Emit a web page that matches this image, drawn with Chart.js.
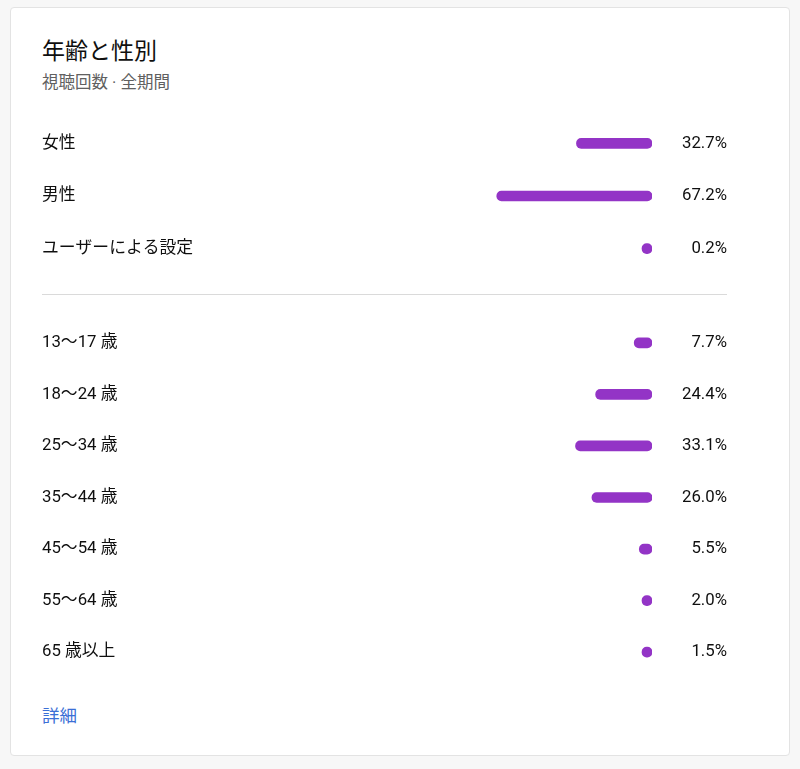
<!DOCTYPE html>
<html lang="ja">
<head>
<meta charset="utf-8">
<title>年齢と性別</title>
<script src="https://cdn.jsdelivr.net/npm/chart.js@4/dist/chart.umd.min.js"></script>
<style>
  body {
    margin: 0;
    width: 800px;
    height: 769px;
    background: #f7f7f7;
    font-family: Roboto, "Noto Sans CJK JP", sans-serif;
    position: relative;
    overflow: hidden;
  }
  .card {
    position: absolute;
    left: 10px;
    top: 7px;
    width: 780px;
    height: 749px;
    box-sizing: border-box;
    background: #fff;
    border: 1px solid #e3e3e3;
    border-radius: 4px;
  }
  .title {
    position: absolute;
    left: 42px;
    top: 37px;
    font-size: 23px;
    line-height: 30px;
    color: #0f0f0f;
  }
  .subtitle {
    position: absolute;
    left: 42px;
    top: 72px;
    font-size: 16.5px;
    line-height: 22px;
    color: #606060;
  }
  .divider {
    position: absolute;
    left: 42px;
    top: 294px;
    width: 685px;
    height: 1px;
    background: #dadada;
  }
  .more {
    position: absolute;
    left: 42px;
    top: 705px;
    font-size: 17.5px;
    line-height: 22px;
    color: #3b6fd6;
  }
  .chart-box {
    position: absolute;
    left: 42px;
    width: 685px;
  }
</style>
</head>
<body>
<div class="card"></div>
<div class="title">年齢と性別</div>
<div class="subtitle">視聴回数 · 全期間</div>
<div class="chart-box" style="top:107px;height:178px;"><canvas id="genderChart"></canvas></div>
<div class="divider"></div>
<div class="chart-box" style="top:307px;height:381px;"><canvas id="ageChart"></canvas></div>
<div class="more">詳細</div>

<script>
// データ
const genderLabels = ["女性", "男性", "ユーザーによる設定"];
const genderValues = [32.7, 67.2, 0.2];

const ageLabels = ["13〜17 歳", "18〜24 歳", "25〜34 歳", "35〜44 歳", "45〜54 歳", "55〜64 歳", "65 歳以上"];
const ageValues = [7.7, 24.4, 33.1, 26.0, 5.5, 2.0, 1.5];

const BAR_COLOR = "#9334c6";
const TEXT_COLOR = "#0f0f0f";
const FONT = { family: 'Roboto, "Noto Sans CJK JP", sans-serif', size: 16.8 };

function initRowChart(id, labels, values) {
  const ctx = document.getElementById(id);
  if (!ctx) return;

  const pctLabels = values.map((v) => v.toFixed(1) + "%");

  new Chart(ctx, {
    type: "bar",
    data: {
      labels: labels,
      datasets: [
        {
          data: values,
          backgroundColor: BAR_COLOR,
          barThickness: 10,
          borderRadius: 5,
          borderSkipped: false,
          minBarLength: 10,
          yAxisID: "y",
        },
      ],
    },
    options: {
      indexAxis: "y",
      responsive: true,
      maintainAspectRatio: false,
      animation: false,
      layout: { padding: 0 },
      plugins: {
        legend: { display: false },
        tooltip: { enabled: false },
      },
      scales: {
        x: {
          display: false,
          reverse: true,
          min: 0,
          max: 100,
        },
        y: {
          position: "left",
          grid: { display: false, drawTicks: false },
          border: { display: false },
          ticks: {
            crossAlign: "far",
            padding: 0,
            color: TEXT_COLOR,
            font: FONT,
          },
          afterFit: function (scale) {
            scale.width = 379;
          },
        },
        y2: {
          type: "category",
          labels: pctLabels,
          position: "right",
          offset: true,
          grid: { display: false, drawTicks: false },
          border: { display: false },
          ticks: {
            crossAlign: "far",
            padding: 0,
            color: TEXT_COLOR,
            font: FONT,
          },
          afterFit: function (scale) {
            scale.width = 75;
          },
        },
      },
    },
  });
}

initRowChart("genderChart", genderLabels, genderValues);
initRowChart("ageChart", ageLabels, ageValues);
</script>
</body>
</html>
